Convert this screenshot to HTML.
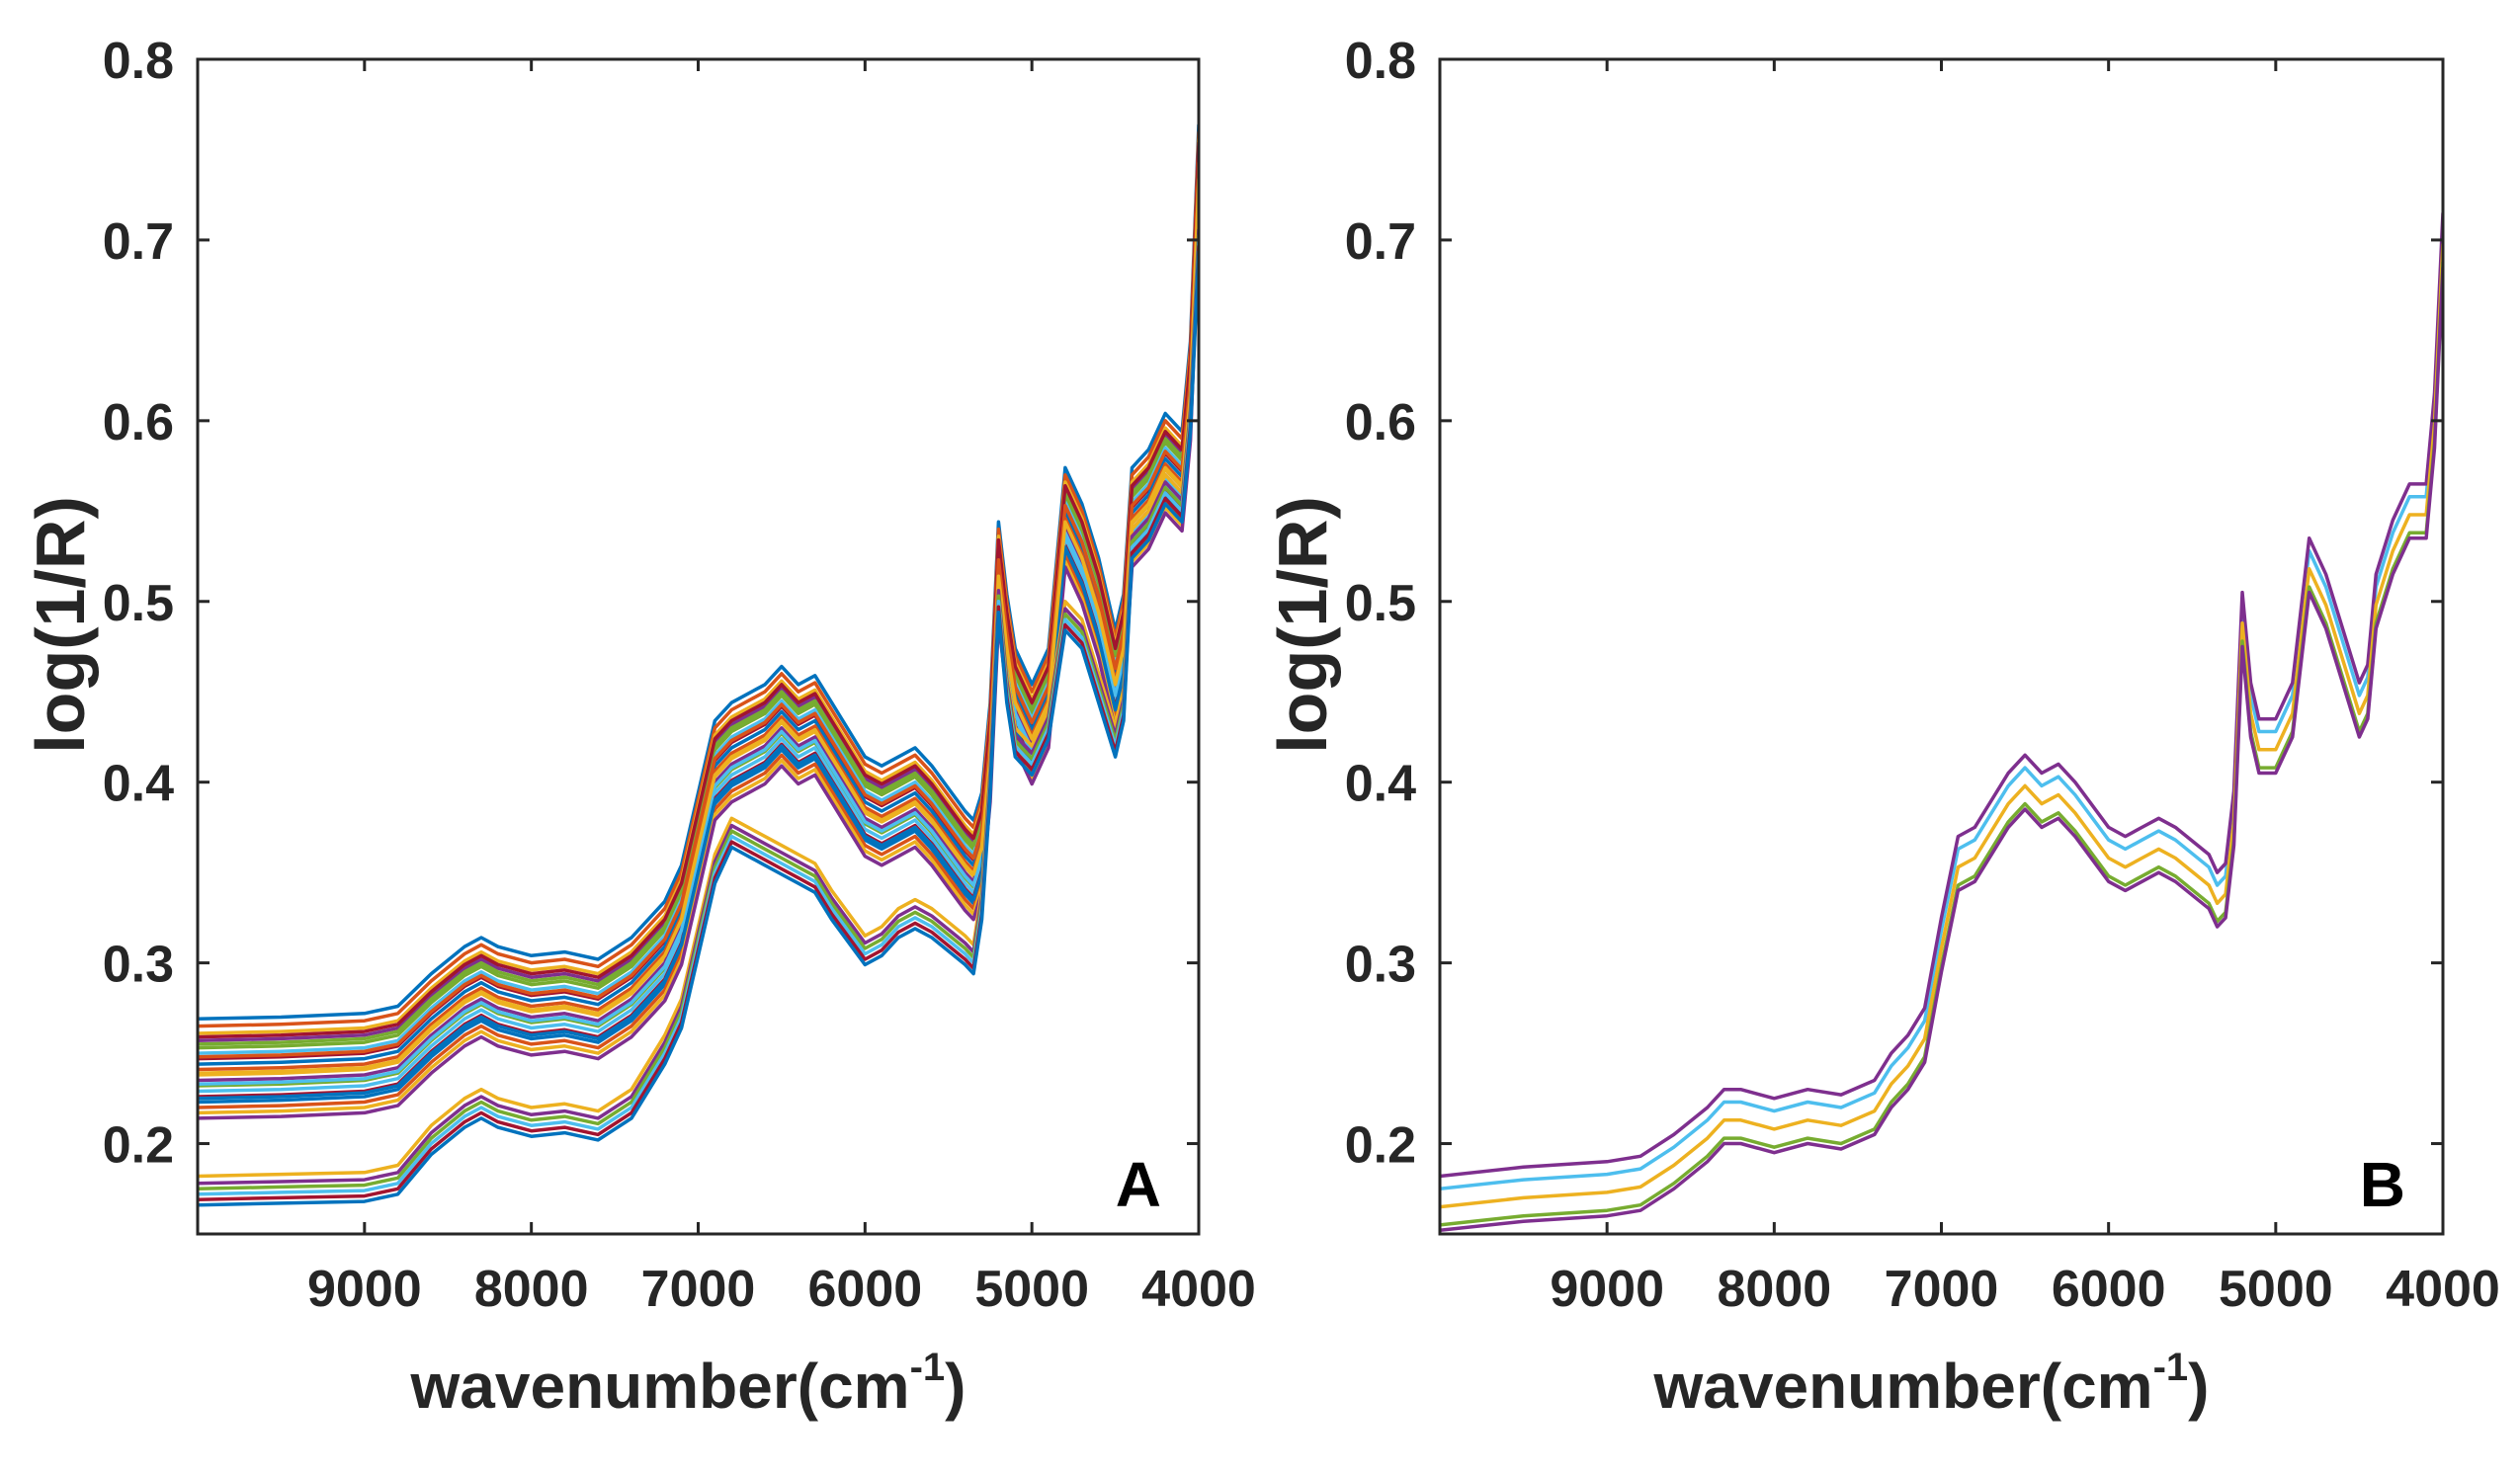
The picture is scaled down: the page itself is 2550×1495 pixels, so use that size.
<!DOCTYPE html>
<html><head><meta charset="utf-8"><style>
html,body{margin:0;padding:0;background:#fff;}
svg{display:block;font-family:"Liberation Sans",Arial,sans-serif;font-weight:bold;}
</style></head><body>
<svg id="fig" width="2550" height="1495" viewBox="0 0 2550 1495"></svg>
<script>
const wn=[10000,9500,9000,8800,8600,8400,8300,8200,8000,7800,7600,7400,7300,7200,7100,7000,6900,6800,6600,6500,6400,6300,6200,6000,5900,5800,5700,5600,5400,5350,5300,5250,5200,5150,5100,5000,4900,4800,4700,4600,4500,4450,4400,4300,4200,4100,4050,4000];
const groupUpper=[0.245,0.246,0.248,0.252,0.27,0.285,0.29,0.285,0.28,0.282,0.278,0.29,0.3,0.31,0.33,0.37,0.41,0.42,0.43,0.44,0.43,0.435,0.42,0.39,0.385,0.39,0.395,0.385,0.36,0.355,0.37,0.42,0.52,0.48,0.45,0.43,0.45,0.55,0.53,0.5,0.46,0.48,0.55,0.56,0.58,0.57,0.62,0.74];
const groupLower=[0.172,0.173,0.174,0.178,0.2,0.215,0.22,0.215,0.21,0.212,0.208,0.22,0.235,0.25,0.27,0.31,0.35,0.37,0.36,0.355,0.35,0.345,0.33,0.305,0.31,0.32,0.325,0.32,0.305,0.3,0.33,0.4,0.5,0.45,0.42,0.41,0.43,0.49,0.48,0.45,0.42,0.44,0.53,0.54,0.56,0.55,0.6,0.7];
const upperOffsets=[0.024,0.02,0.016,0.012,0.008,0.005,0.002,-0.001,-0.004,-0.007,-0.01,-0.013,-0.016,-0.019,-0.022,-0.025,-0.028,-0.031,0.01,-0.012,0.014,-0.02,0.003,-0.006];
const lowerOffsets=[0.01,0.006,0.003,0.0,-0.003,-0.006];
const specB=[0.167,0.172,0.175,0.178,0.19,0.205,0.215,0.215,0.21,0.215,0.212,0.22,0.235,0.245,0.26,0.31,0.355,0.36,0.39,0.4,0.39,0.395,0.385,0.36,0.355,0.36,0.365,0.36,0.345,0.335,0.34,0.38,0.49,0.44,0.42,0.42,0.44,0.52,0.5,0.47,0.44,0.45,0.5,0.53,0.55,0.55,0.6,0.7];
const bOffsets=[0.008,0.015,-0.002,-0.012,-0.015];
const bColors=["#4DBEEE","#7E2F8E","#EDB120","#77AC30","#7E2F8E"];
const xTicks=[9000,8000,7000,6000,5000,4000];
const yTicks=[0.2,0.3,0.4,0.5,0.6,0.7,0.8];
const mat=["#0072BD","#D95319","#EDB120","#7E2F8E","#77AC30","#4DBEEE","#A2142F"];
const NS="http://www.w3.org/2000/svg";
const svg=document.getElementById('fig');
function mk(t,a,p){const e=document.createElementNS(NS,t);for(const k in a)e.setAttribute(k,a[k]);(p||svg).appendChild(e);return e;}
function panel(L,R,T,B,letter,series){
  const g=mk('g',{});
  
  
  const sx=v=>L+(10000-v)/6000*(R-L);
  const sy=v=>B-(v-0.15)/0.65*(B-T);
  const cp=mk('clipPath',{id:'c'+letter},g);mk('rect',{x:L,y:T,width:R-L,height:B-T},cp);
  const lg=mk('g',{'clip-path':'url(#c'+letter+')'},g);
  series.forEach((s,i)=>{
    const d=s.vals.map((v,j)=>(j?'L':'M')+sx(wn[j]).toFixed(1)+' '+sy(v).toFixed(1)).join(' ');
    const p=mk('path',{d:d,fill:'none',stroke:s.color,'stroke-width':3.5,'stroke-linejoin':'round'},lg);
    
    
  });
  const fr=mk('rect',{x:L,y:T,width:R-L,height:B-T,fill:'none',stroke:'#262626','stroke-width':3},g);
  
  
  xTicks.forEach(v=>{const x=sx(v);
    mk('line',{x1:x,y1:B,x2:x,y2:B-12,stroke:'#262626','stroke-width':3},g);
    mk('line',{x1:x,y1:T,x2:x,y2:T+12,stroke:'#262626','stroke-width':3},g);
    const t=mk('text',{x:x,y:1322,'text-anchor':'middle','font-size':52,fill:'#262626'},g);t.textContent=v;
    
    });
  yTicks.forEach(v=>{const y=sy(v);
    mk('line',{x1:L,y1:y,x2:L+12,y2:y,stroke:'#262626','stroke-width':3},g);
    mk('line',{x1:R,y1:y,x2:R-12,y2:y,stroke:'#262626','stroke-width':3},g);
    const t=mk('text',{x:L-24,y:y+19,'text-anchor':'end','font-size':52,fill:'#262626'},g);t.textContent=v.toFixed(1);
    
    });
  const xl=mk('text',{x:(L+R)/2-10,y:1425,'text-anchor':'middle','font-size':64,fill:'#262626'},g);
  xl.innerHTML='wavenumber(cm<tspan font-size="40" dy="-28">-1</tspan><tspan dy="28">)</tspan>';
  
  
  const yl=mk('text',{x:0,y:0,'text-anchor':'middle','font-size':70,fill:'#262626',transform:'translate('+(L-115)+','+((T+B)/2-22)+') rotate(-90)'},g);
  yl.textContent='log(1/R)';
  
  
  const pl=mk('text',{x:R-38,y:B-28,'text-anchor':'end','font-size':64,fill:'#000'},g);
  pl.textContent=letter;
  
  
}
const sA=[];
upperOffsets.forEach((o,i)=>sA.push({vals:groupUpper.map(v=>v+o),color:mat[i%7]}));
lowerOffsets.forEach((o,i)=>sA.push({vals:groupLower.map(v=>v+o),color:mat[(i+2)%7]}));
panel(200,1213,60,1249,'A',sA);
const sB=bOffsets.map((o,i)=>({vals:specB.map(v=>v+o),color:bColors[i]}));
panel(1457,2472,60,1249,'B',sB);
</script>
</body></html>
